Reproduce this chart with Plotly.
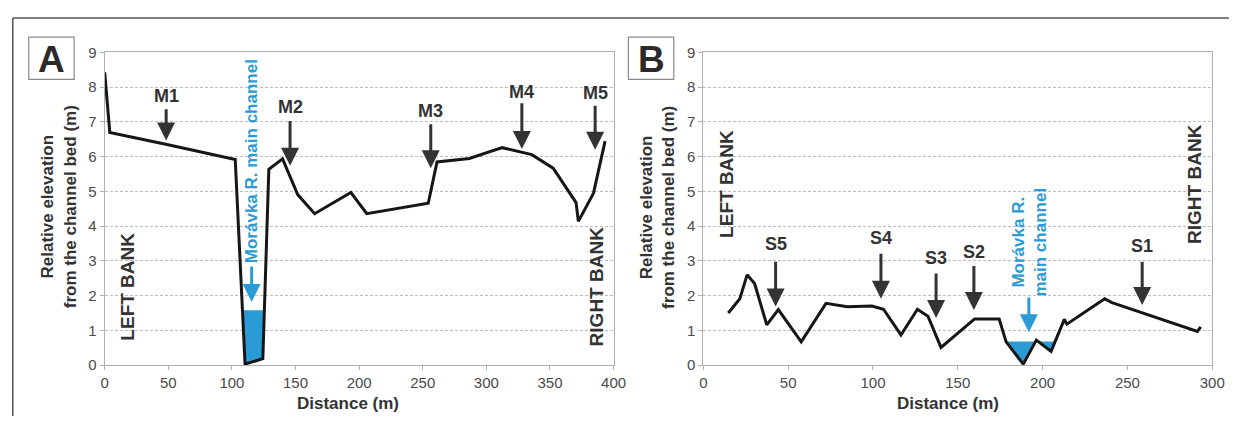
import plotly.graph_objects as go

# ---------------- data ----------------
# Panel A profile (distance m, relative elevation m)
a_dist = [0, 4, 48, 102.6, 110.3, 124.3, 129, 139.8, 151.7, 165, 193.5, 206, 254.3, 261.2,
          286.6, 312.4, 335.7, 352.5, 370.5, 372.3, 384.2, 393.3]
a_elev = [8.43, 6.7, 6.36, 5.92, 0.03, 0.19, 5.64, 5.94, 4.91, 4.36, 4.97, 4.36, 4.66, 5.85,
          5.95, 6.26, 6.06, 5.67, 4.68, 4.14, 4.95, 6.45]
a_water_level = 1.58

# Panel B profile
b_dist = [14.7, 21.5, 25.8, 30.2, 37.4, 44.2, 57.7, 72.3, 84.9, 99.4, 106.2, 116.5, 126.2, 132.4,
          140.1, 159.9, 174.4, 178.5, 188.6, 196.3, 205, 212.8, 214.3, 236.6, 240.9, 291.3, 293.2]
b_elev = [1.5, 1.91, 2.6, 2.35, 1.16, 1.6, 0.67, 1.78, 1.68, 1.7, 1.61, 0.87, 1.61, 1.41,
          0.51, 1.33, 1.33, 0.67, 0.03, 0.72, 0.4, 1.32, 1.18, 1.91, 1.8, 0.97, 1.1]
b_water_level = 0.68

# Sampling-site arrows: label, x, label y, shaft top y, tip y
a_sites = ["M1", "M2", "M3", "M4", "M5"]
a_site_x = [48.3, 145.7, 256.3, 327.9, 385.5]
a_site_label_y = [7.74, 7.44, 7.32, 7.87, 7.83]
a_site_top = [7.41, 7.07, 6.98, 7.58, 7.51]
a_site_tip = [6.47, 5.74, 5.67, 6.22, 6.2]

b_sites = ["S5", "S4", "S3", "S2", "S1"]
b_site_x = [42.6, 104.7, 137.2, 159.5, 258.7]
b_site_label_y = [3.48, 3.67, 3.08, 3.27, 3.42]
b_site_top = [3.02, 3.25, 2.68, 2.9, 3.02]
b_site_tip = [1.69, 1.91, 1.36, 1.59, 1.73]

x_ticks_a = [0, 50, 100, 150, 200, 250, 300, 350, 400]
x_ticks_b = [0, 50, 100, 150, 200, 250, 300]
y_ticks = list(range(0, 10))

FONT = "Liberation Sans, Arial, sans-serif"
BLUE = "#2a9bd5"
DARK = "#333333"
LINE = "#161616"
PAGE_MARGIN = 8           # default body margin of the html page
FW, FH = 1250 - 2 * PAGE_MARGIN, 432 - 2 * PAGE_MARGIN


def px(x):
    return (x - PAGE_MARGIN) / FW


def py(y):
    return 1 - (y - PAGE_MARGIN) / FH


def water_poly(xs, ys, level, xmin, xmax):
    qx, qy = [], []
    for i in range(len(xs) - 1):
        x0, y0, x1, y1 = xs[i], ys[i], xs[i + 1], ys[i + 1]
        if x1 < xmin or x0 > xmax:
            continue
        if y0 < level and xmin <= x0 <= xmax:
            qx.append(x0)
            qy.append(y0)
        if (y0 - level) * (y1 - level) < 0:
            t = (level - y0) / (y1 - y0)
            qx.append(x0 + t * (x1 - x0))
            qy.append(level)
    qx.append(qx[0])
    qy.append(qy[0])
    return qx, qy


fig = go.Figure()

wa_x, wa_y = water_poly(a_dist, a_elev, a_water_level, 100, 130)
fig.add_trace(go.Scatter(x=wa_x, y=wa_y, fill="toself", fillcolor=BLUE, mode="lines",
                         line=dict(width=0, color=BLUE), xaxis="x", yaxis="y", hoverinfo="skip"))
wb_x, wb_y = water_poly(b_dist, b_elev, b_water_level, 170, 215)
fig.add_trace(go.Scatter(x=wb_x, y=wb_y, fill="toself", fillcolor=BLUE, mode="lines",
                         line=dict(width=0, color=BLUE), xaxis="x2", yaxis="y2", hoverinfo="skip"))

fig.add_trace(go.Scatter(x=a_dist, y=a_elev, mode="lines", line=dict(color=LINE, width=3),
                         xaxis="x", yaxis="y"))
fig.add_trace(go.Scatter(x=b_dist, y=b_elev, mode="lines", line=dict(color=LINE, width=3),
                         xaxis="x2", yaxis="y2"))

ydom = [py(371), py(45)]
axis_common = dict(showline=True, linecolor="#b0b0b0", linewidth=1, mirror=True,
                   ticks="outside", ticklen=4, tickcolor="#b0b0b0",
                   tickfont=dict(family=FONT, size=15, color="#4a4a4a"),
                   zeroline=False)
fig.update_layout(
    width=FW, height=FH, margin=dict(l=0, r=0, t=0, b=0),
    paper_bgcolor="white", plot_bgcolor="white", showlegend=False,
    xaxis=dict(domain=[px(102), px(618)], range=[0, 400], tickvals=x_ticks_a,
               showgrid=False, anchor="y", **axis_common),
    yaxis=dict(domain=ydom, range=[0, 9], tickvals=y_ticks, showgrid=True,
               gridcolor="#bdbdbd", griddash="3px,2px", gridwidth=1, anchor="x", **axis_common),
    xaxis2=dict(domain=[px(709), px(1225)], range=[0, 300], tickvals=x_ticks_b,
                showgrid=False, anchor="y2", **axis_common),
    yaxis2=dict(domain=ydom, range=[0, 9], tickvals=y_ticks, showgrid=True,
                gridcolor="#bdbdbd", griddash="3px,2px", gridwidth=1, anchor="x2", **axis_common),
)

ann = []
shapes = []


def txt(text, x, y, xref, yref, size, color=DARK, angle=0):
    ann.append(dict(text=text, x=x, y=y, xref=xref, yref=yref, showarrow=False,
                    textangle=angle, font=dict(family=FONT, size=size, color=color, weight="bold"),
                    xanchor="center", yanchor="middle"))


def arrow(x, ytop, ytip, xref, yref, color=DARK):
    ann.append(dict(text="", x=x, y=ytip, ax=x, ay=ytop, xref=xref, yref=yref,
                    axref=xref, ayref=yref, showarrow=True, arrowhead=2, arrowsize=1.2,
                    arrowwidth=3, arrowcolor=color, standoff=0, startstandoff=0))


for lab, x, ly, top, tip in zip(a_sites, a_site_x, a_site_label_y, a_site_top, a_site_tip):
    txt(lab, x, ly, "x", "y", 18)
    arrow(x, top, tip, "x", "y")
for lab, x, ly, top, tip in zip(b_sites, b_site_x, b_site_label_y, b_site_top, b_site_tip):
    txt(lab, x, ly, "x2", "y2", 18)
    arrow(x, top, tip, "x2", "y2")

# bank labels
txt("LEFT BANK", 17.8, 2.27, "x", "y", 19, angle=-90)
txt("RIGHT BANK", 387.3, 2.28, "x", "y", 19, angle=-90)
txt("LEFT BANK", 13.2, 5.21, "x2", "y2", 19, angle=-90)
txt("RIGHT BANK", 289.9, 5.22, "x2", "y2", 19, angle=-90)

# main channel labels
txt("Morávka R. main channel", 116, 5.88, "x", "y", 17, color=BLUE, angle=-90)
arrow(115.5, 2.88, 1.82, "x", "y", color=BLUE)
txt("Morávka R.<br>main channel", 192.4, 3.55, "x2", "y2", 17, color=BLUE, angle=-90)
arrow(191.9, 1.99, 0.95, "x2", "y2", color=BLUE)

# axis titles
ytitle = "Relative elevation<br>from the channel bed (m)"
txt(ytitle, px(56), py(206), "paper", "paper", 17, angle=-90)
txt(ytitle, px(663), py(206), "paper", "paper", 17, angle=-90)
txt("Distance (m)", px(349), py(411), "paper", "paper", 17)
txt("Distance (m)", px(957), py(411), "paper", "paper", 17)

# panel letters
for letter, x0, x1 in [("A", 25, 71), ("B", 633, 679)]:
    shapes.append(dict(type="rect", xref="paper", yref="paper", x0=px(x0), x1=px(x1),
                       y0=py(73), y1=py(29), line=dict(color="#8a8a8a", width=1.2),
                       fillcolor="white"))
    txt(letter, px((x0 + x1) / 2), py(52), "paper", "paper", 37, color="#2a2a2a")

# outer frame (only top and left edges are inside the picture)
frame = dict(color="#555555", width=1.5)
shapes.append(dict(type="line", xref="paper", yref="paper", x0=px(8.8), x1=1,
                   y0=py(9), y1=py(9), line=frame, layer="below"))
shapes.append(dict(type="line", xref="paper", yref="paper", x0=px(8.8), x1=px(8.8),
                   y0=0, y1=py(9), line=frame, layer="below"))

fig.update_layout(annotations=ann, shapes=shapes)

fig.write_html("out.html", config={"displayModeBar": False})
